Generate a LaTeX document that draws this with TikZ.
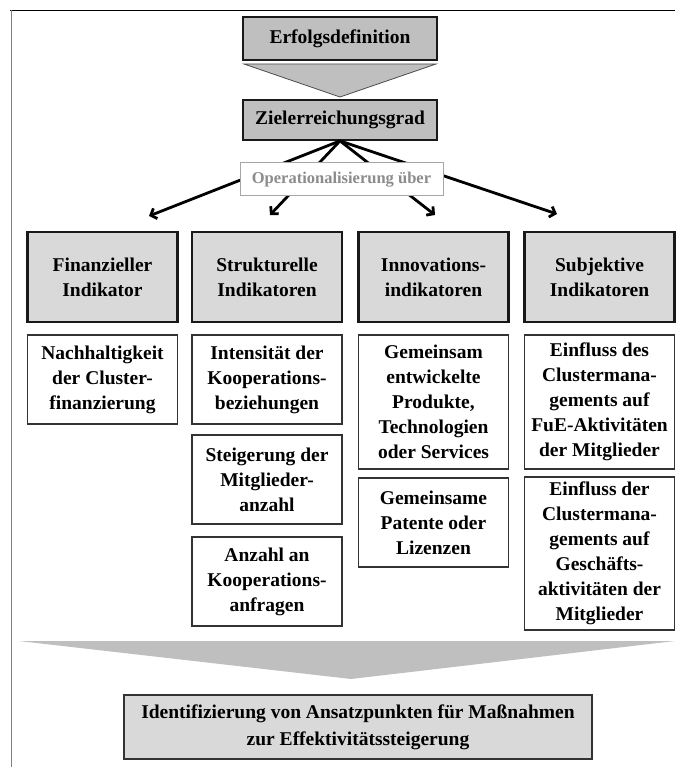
\documentclass[tikz,border=0pt]{standalone}
\usepackage{fontspec}
\setmainfont{Liberation Serif}
\usetikzlibrary{arrows.meta}
\definecolor{darkfill}{HTML}{BFBFBF}
\definecolor{lightfill}{HTML}{D9D9D9}
\definecolor{opgray}{HTML}{8C8C8C}
\definecolor{opborder}{HTML}{A6A6A6}
\definecolor{boxline}{HTML}{333333}
\tikzset{
  txt/.style={font=\fontsize{19.5}{25}\selectfont\bfseries, align=center, inner sep=0pt},
  topbox/.style={txt, draw=black!90, line width=1.8pt, fill=darkfill, minimum width=194pt},
  headbox/.style={txt, draw=black!90, line width=2.7pt, fill=lightfill, minimum width=150pt, minimum height=90pt},
  itembox/.style={txt, draw=boxline, line width=1.4pt, fill=white, minimum width=150pt},
  opbox/.style={draw=opborder, line width=1pt, fill=white, text=opgray, font=\fontsize{16.5}{20}\selectfont\bfseries, minimum width=203pt, minimum height=33pt, inner sep=0pt},
  conn/.style={line width=2.8pt, -{Straight Barb[length=5pt,width=11pt]}},
  endbox/.style={txt, draw=boxline, line width=1.6pt, fill=lightfill, minimum width=468pt, minimum height=64pt, font=\fontsize{19.5}{27}\selectfont\bfseries}
}
\begin{document}
\begin{tikzpicture}[x=1pt,y=-1pt]
\useasboundingbox (0,0) rectangle (675,767);
% frame
\draw[black, line width=1.5pt] (10,10.5) -- (675,10.5);
\draw[gray, line width=1.2pt] (11.5,10.5) -- (11.5,767);

% top
\node[topbox, minimum height=43pt] (erf) at (340,38.5) {Erfolgsdefinition};
\coordinate (t1) at (244,64);
\coordinate (t2) at (436,64);
\coordinate (t3) at (340,97);
\draw[fill=darkfill, draw=black!70, line width=0.8pt] (t1) -- (t2) -- (t3) -- cycle;
\node[topbox, minimum height=40pt] (ziel) at (340,120) {Zielerreichungsgrad};

% arrow targets
\coordinate (a1) at (149,216);
\coordinate (a2) at (270,215);
\coordinate (a3) at (435,215);
\coordinate (a4) at (557,214);
\foreach \t in {a1,a2,a3,a4} \draw[conn] (ziel.south) -- (\t);

\node[opbox] (op) at (341.5,179.5) {Operationalisierung über};

% headers
\node[headbox] (h1) at (102.5,277) {Finanzieller\\Indikator};
\node[headbox] (h2) at (267,277) {Strukturelle\\Indikatoren};
\node[headbox] (h3) at (433.5,277) {Innovations-\\indikatoren};
\node[headbox] (h4) at (599.5,277) {Subjektive\\Indikatoren};

% items
\node[itembox, minimum height=89pt] (n1) at (102.5,379.5) {Nachhaltigkeit\\der Cluster-\\finanzierung};
\node[itembox, minimum height=89pt] (s1) at (267,379.5) {Intensität der\\Kooperations-\\beziehungen};
\node[itembox, minimum height=89pt] (s2) at (267,479.5) {Steigerung der\\Mitglieder-\\anzahl};
\node[itembox, minimum height=89pt] (s3) at (267,581.5) {Anzahl an\\Kooperations-\\anfragen};
\node[itembox, minimum height=134pt] (i1) at (433.5,402) {Gemeinsam\\entwickelte\\Produkte,\\Technologien\\oder Services};
\node[itembox, minimum height=89pt] (i2) at (433.5,522.5) {Gemeinsame\\Patente oder\\Lizenzen};
\node[itembox, minimum height=134pt] (j1) at (599.5,402) {Einfluss des\\Clustermana-\\gements auf\\FuE-Aktivitäten\\der Mitglieder};
\node[itembox, minimum height=153pt] (j2) at (599.5,553.5) {Einfluss der\\Clustermana-\\gements auf\\Geschäfts-\\aktivitäten der\\Mitglieder};

% bottom chevron
\coordinate (b1) at (19,641);
\coordinate (b2) at (675,641);
\coordinate (b3) at (351,679);
\fill[darkfill] (b1) -- (b2) -- (b3) -- cycle;

\node[endbox] (end) at (358,727) {Identifizierung von Ansatzpunkten für Maßnahmen\\zur Effektivitätssteigerung};
\end{tikzpicture}
\end{document}
